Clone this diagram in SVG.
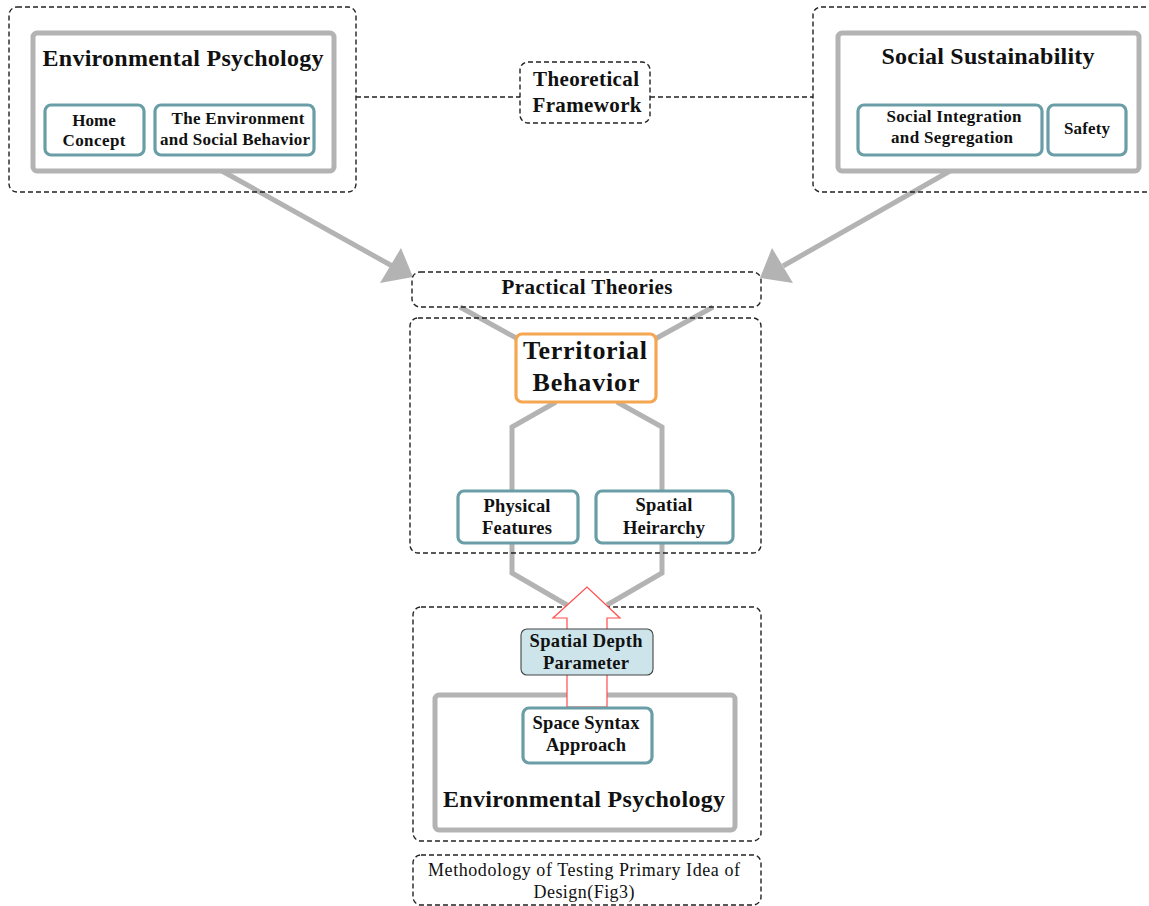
<svg xmlns="http://www.w3.org/2000/svg" width="1149" height="906" viewBox="0 0 1149 906">
<style>
.dash{fill:none;stroke:#222;stroke-width:1.4;stroke-dasharray:5 3}
.gbox{fill:#fff;stroke:#b3b3b3;stroke-width:5}
.tbox{fill:#fff;stroke:#6a9ea7;stroke-width:3.2}
.conn{fill:none;stroke:#b3b3b3;stroke-width:5}
.ah{fill:#b3b3b3}
text{font-family:"Liberation Serif","Times New Roman",serif;font-weight:bold;fill:#111;text-anchor:middle}
.s{font-size:18.5px}
.k{font-size:17px}
.m{font-size:21px}
.h{font-size:24px}
.t{font-size:26px}
.n{font-weight:normal;font-size:18px}
</style>
<rect width="1149" height="906" fill="#fff"/>
<g id="connectors">
<line class="dash" x1="356" y1="97" x2="520" y2="97"/>
<line class="dash" x1="650" y1="97" x2="813" y2="97"/>
<line class="conn" x1="222" y1="171" x2="394" y2="267"/>
<polygon class="ah" points="413,277 401,248 380,283"/>
<line class="conn" x1="950" y1="171" x2="783" y2="266"/>
<polygon class="ah" points="760,278 772,248 793,283"/>
<line class="conn" x1="460" y1="307" x2="518" y2="339"/>
<line class="conn" x1="713" y1="307" x2="655" y2="339"/>
<polyline class="conn" points="556,402 512,427 512,490"/>
<polyline class="conn" points="617,402 662,427 662,490"/>
<polyline class="conn" points="512,543 512,573 567,605"/>
<polyline class="conn" points="662,543 662,573 607,605"/>
</g>
<g id="env-psych-top">
<rect class="dash" x="9" y="7" width="347" height="185" rx="8"/>
<rect class="gbox" x="33" y="33" width="301" height="138" rx="4"/>
<text class="h" x="183" y="66" textLength="281">Environmental Psychology</text>
</g>
<g id="home-concept">
<rect class="tbox" x="45" y="105" width="99" height="50" rx="6"/>
<text class="k" x="94" y="126">Home</text>
<text class="k" x="94" y="146" textLength="63">Concept</text>
</g>
<g id="env-social">
<rect class="tbox" x="155" y="105" width="159" height="50" rx="6"/>
<text class="k" x="238" y="124" textLength="133">The Environment</text>
<text class="k" x="235" y="145" textLength="150">and Social Behavior</text>
</g>
<g id="theoretical-framework">
<rect class="dash" x="520" y="62" width="130" height="61" rx="8"/>
<text class="m" x="586" y="86" textLength="106">Theoretical</text>
<text class="m" x="587" y="112" textLength="109">Framework</text>
</g>
<g id="social-sustainability">
<rect class="dash" x="813" y="7" width="350" height="185" rx="8"/>
<rect class="gbox" x="838" y="33" width="301" height="138" rx="4"/>
<text class="h" x="988" y="64" textLength="213">Social Sustainability</text>
</g>
<g id="social-integration">
<rect class="tbox" x="858" y="105" width="184" height="50" rx="6"/>
<text class="k" x="954" y="122" textLength="135">Social Integration</text>
<text class="k" x="952" y="143" textLength="122">and Segregation</text>
</g>
<g id="safety">
<rect class="tbox" x="1048" y="105" width="78" height="50" rx="6"/>
<text class="k" x="1087" y="134" textLength="46">Safety</text>
</g>
<g id="practical-theories">
<rect class="dash" x="412" y="272" width="349" height="35" rx="8"/>
<text class="m" x="587" y="294" textLength="171">Practical Theories</text>
</g>
<g id="territorial-group">
<rect class="dash" x="410" y="318" width="351" height="235" rx="8"/>
</g>
<g id="territorial-behavior">
<rect x="516" y="334" width="140" height="68" rx="6" fill="#fff" stroke="#f5a650" stroke-width="3.2"/>
<text class="t" x="585" y="359" textLength="124">Territorial</text>
<text class="t" x="586" y="391" textLength="107">Behavior</text>
</g>
<g id="physical-features">
<rect class="tbox" x="458" y="491" width="120" height="52" rx="6"/>
<text class="s" x="517" y="512" textLength="67">Physical</text>
<text class="s" x="517" y="534" textLength="70">Features</text>
</g>
<g id="spatial-heirarchy">
<rect class="tbox" x="596" y="491" width="137" height="52" rx="6"/>
<text class="s" x="664" y="511" textLength="57">Spatial</text>
<text class="s" x="664" y="534" textLength="82">Heirarchy</text>
</g>
<g id="methodology-group">
<rect class="dash" x="413" y="607" width="348" height="234" rx="8"/>
</g>
<g id="env-psych-bottom">
<rect class="gbox" x="435" y="695" width="300" height="135" rx="4"/>
<text class="h" x="584" y="807" textLength="282">Environmental Psychology</text>
</g>
<g id="red-arrow">
<polygon points="567,707 567,618 553,618 587,587 620,618 607,618 607,707" fill="#fff" stroke="#ff4d4d" stroke-width="1.2"/>
</g>
<g id="space-syntax">
<rect class="tbox" x="523" y="708" width="129" height="55" rx="6"/>
<text class="s" x="586" y="729" textLength="107">Space Syntax</text>
<text class="s" x="586" y="751" textLength="80">Approach</text>
</g>
<g id="spatial-depth">
<rect x="521" y="629" width="132" height="46" rx="6" fill="#cde4eb" stroke="#444" stroke-width="1.1"/>
<text class="s" x="586" y="647" textLength="113">Spatial Depth</text>
<text class="s" x="586" y="669" textLength="86">Parameter</text>
</g>
<g id="caption">
<rect class="dash" x="413" y="855" width="348" height="50" rx="8"/>
<text class="n" x="584" y="876" textLength="312">Methodology of Testing Primary Idea of</text>
<text class="n" x="584" y="898" textLength="101">Design(Fig3)</text>
</g>
</svg>
